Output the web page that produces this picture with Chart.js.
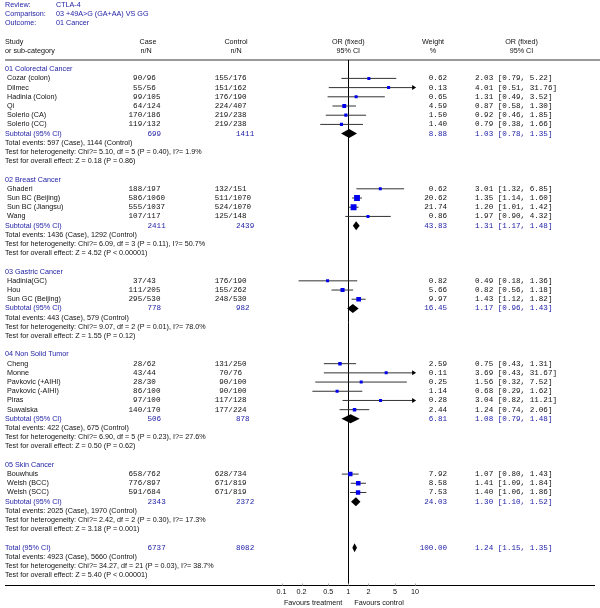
<!DOCTYPE html>
<html><head><meta charset="utf-8">
<script src="https://cdn.jsdelivr.net/npm/chart.js@4/dist/chart.umd.min.js"></script>
<style>html,body{margin:0;padding:0;background:#fff;overflow:hidden}canvas{display:block}</style>
</head><body>
<canvas id="c" width="600" height="608"></canvas>
<script>
// ---------- DATA ----------
const reviewLabels = ["Review:", "Comparison:", "Outcome:"];
const reviewValues = ["CTLA-4", "03 +49A>G (GA+AA) VS GG", "01 Cancer"];

const groupNames = ["01 Colorectal Cancer", "02 Breast Cancer", "03 Gastric Cancer", "04 Non Solid Tumor", "05 Skin Cancer"];
const studyNames = [
  ["Cozar (colon)", "Dilmec", "Hadinia (Colon)", "Qi", "Solerio (CA)", "Solerio (CC)"],
  ["Ghaderi", "Sun BC (Beijing)", "Sun BC (Jiangsu)", "Wang"],
  ["Hadinia(GC)", "Hou", "Sun GC (Beijing)"],
  ["Cheng", "Monne", "Pavkovic (+AIHI)", "Pavkovic (-AIHI)", "Piras", "Suwalska"],
  ["Bouwhuis", "Welsh (BCC)", "Welsh (SCC)"]
];
const caseEvents = [[90,55,99,64,170,119],[188,586,555,107],[37,111,295],[28,43,28,86,97,140],[658,776,591]];
const caseTotals = [[96,56,105,124,186,132],[197,1060,1037,117],[43,205,530],[62,44,30,100,100,170],[762,897,684]];
const ctrlEvents = [[155,151,176,224,219,219],[132,511,524,125],[176,155,248],[131,70,90,90,117,177],[628,671,671]];
const ctrlTotals = [[176,162,190,407,238,238],[151,1070,1070,148],[190,262,530],[250,76,100,100,128,224],[734,819,819]];
const weights = [[0.62,0.13,0.65,4.59,1.50,1.40],[0.62,20.62,21.74,0.86],[0.82,5.66,9.97],[2.59,0.11,0.25,1.14,0.28,2.44],[7.92,8.58,7.53]];
const orValues = [[2.03,4.01,1.31,0.87,0.92,0.79],[3.01,1.35,1.20,1.97],[0.49,0.82,1.43],[0.75,3.69,1.56,0.68,3.04,1.24],[1.07,1.41,1.40]];
const ciLow = [[0.79,0.51,0.49,0.58,0.46,0.38],[1.32,1.14,1.01,0.90],[0.18,0.56,1.12],[0.43,0.43,0.32,0.29,0.82,0.74],[0.80,1.09,1.06]];
const ciHigh = [[5.22,31.76,3.52,1.30,1.85,1.66],[6.85,1.60,1.42,4.32],[1.36,1.18,1.82],[1.31,31.67,7.52,1.62,11.21,2.06],[1.43,1.84,1.86]];

const subCaseTotals = [699, 2411, 778, 506, 2343];
const subCtrlTotals = [1411, 2439, 982, 878, 2372];
const subWeights = [8.88, 43.83, 16.45, 6.81, 24.03];
const subOR = [1.03, 1.31, 1.17, 1.08, 1.30];
const subLow = [0.78, 1.17, 0.96, 0.79, 1.10];
const subHigh = [1.35, 1.48, 1.43, 1.48, 1.52];
const subCaseEvents = [597, 1436, 443, 422, 2025];
const subCtrlEvents = [1144, 1292, 579, 675, 1970];
const subHet = ["Chi?= 5.10, df = 5 (P = 0.40), I?= 1.9%", "Chi?= 6.09, df = 3 (P = 0.11), I?= 50.7%", "Chi?= 9.07, df = 2 (P = 0.01), I?= 78.0%", "Chi?= 6.90, df = 5 (P = 0.23), I?= 27.6%", "Chi?= 2.42, df = 2 (P = 0.30), I?= 17.3%"];
const subEffect = ["Z = 0.18 (P = 0.86)", "Z = 4.52 (P < 0.00001)", "Z = 1.55 (P = 0.12)", "Z = 0.50 (P = 0.62)", "Z = 3.18 (P = 0.001)"];

const totalCase = 6737, totalCtrl = 8082, totalWeight = 100.00;
const totalOR = 1.24, totalLow = 1.15, totalHigh = 1.35;
const totalCaseEvents = 4923, totalCtrlEvents = 5660;
const totalHet = "Chi?= 34.27, df = 21 (P = 0.03), I?= 38.7%";
const totalEffect = "Z = 5.40 (P < 0.00001)";

const xTicks = [0.1, 0.2, 0.5, 1, 2, 5, 10];
const xTickLabels = ["0.1", "0.2", "0.5", "1", "2", "5", "10"];
const favourLeft = "Favours treatment", favourRight = "Favours control";

// ---------- ROW LAYOUT ----------
const rows = []; // {kind, ...}
let r = 0;
groupNames.forEach((g, gi) => {
  rows.push({kind: "group", row: r++, text: g});
  studyNames[gi].forEach((s, si) => {
    rows.push({kind: "study", row: r++, name: s, ce: caseEvents[gi][si], ct: caseTotals[gi][si],
      te: ctrlEvents[gi][si], tt: ctrlTotals[gi][si], w: weights[gi][si],
      or: orValues[gi][si], lo: ciLow[gi][si], hi: ciHigh[gi][si]});
  });
  rows.push({kind: "sub", row: r++, label: "Subtotal (95% CI)", ct: subCaseTotals[gi], tt: subCtrlTotals[gi],
    w: subWeights[gi], or: subOR[gi], lo: subLow[gi], hi: subHigh[gi]});
  rows.push({kind: "text", row: r++, text: "Total events: " + subCaseEvents[gi] + " (Case), " + subCtrlEvents[gi] + " (Control)"});
  rows.push({kind: "text", row: r++, text: "Test for heterogeneity: " + subHet[gi]});
  rows.push({kind: "text", row: r++, text: "Test for overall effect: " + subEffect[gi]});
  r++;
});
rows.push({kind: "sub", row: r++, label: "Total (95% CI)", ct: totalCase, tt: totalCtrl, w: totalWeight, or: totalOR, lo: totalLow, hi: totalHigh});
rows.push({kind: "text", row: r++, text: "Total events: " + totalCaseEvents + " (Case), " + totalCtrlEvents + " (Control)"});
rows.push({kind: "text", row: r++, text: "Test for heterogeneity: " + totalHet});
rows.push({kind: "text", row: r++, text: "Test for overall effect: " + totalEffect});
const lastRow = r; // axis row

const studies = rows.filter(o => o.kind === "study");
const XMIN = 0.1, XMAX = 10;

const ciPoints = [];
studies.forEach(s => {
  ciPoints.push({x: Math.max(s.lo, XMIN), y: s.row});
  ciPoints.push({x: Math.min(s.hi, XMAX), y: s.row});
  ciPoints.push({x: 1, y: null});
});
const squarePoints = studies.map(s => ({x: s.or, y: s.row}));
const squareSide = studies.map(s => Math.max(3, 2.2 + 0.8 * Math.sqrt(s.w)));

// ---------- STYLE ----------
const SANS = '7.2px "Liberation Sans", Arial, sans-serif';
const MONO = '7.6px "Liberation Mono", "Courier New", monospace';
const BLUE = '#2222a8';
const TXT = '#111';
const CASE_SLASH = 144.5, CTRL_SLASH = 230.6;

const forestPlugin = {
  id: 'forest',
  beforeDatasetsDraw(chart) {
    const ctx = chart.ctx, xs = chart.scales.x, ys = chart.scales.y;
    const px = v => xs.getPixelForValue(v), py = v => ys.getPixelForValue(v);
    ctx.save();
    // header rule
    ctx.strokeStyle = '#777'; ctx.lineWidth = 1.5;
    ctx.beginPath(); ctx.moveTo(5, py(-1)); ctx.lineTo(600, py(-1)); ctx.stroke();
    // bottom axis
    ctx.strokeStyle = '#000'; ctx.lineWidth = 1;
    const yb = Math.round(py(lastRow)) + 0.5;
    ctx.beginPath(); ctx.moveTo(5, yb); ctx.lineTo(595, yb); ctx.stroke();
    // line of no effect
    const x1 = Math.round(px(1)) + 0.5;
    ctx.beginPath(); ctx.moveTo(x1, py(-1)); ctx.lineTo(x1, yb); ctx.stroke();
    // ticks
    ctx.strokeStyle = '#aaa';
    xTicks.forEach(v => {
      const x = Math.round(px(v)) + 0.5;
      ctx.beginPath(); ctx.moveTo(x, yb - 2); ctx.lineTo(x, yb); ctx.stroke();
    });
    ctx.restore();
  },
  afterDatasetsDraw(chart) {
    const ctx = chart.ctx, xs = chart.scales.x, ys = chart.scales.y;
    const px = v => xs.getPixelForValue(v), py = v => ys.getPixelForValue(v);
    ctx.save();
    ctx.textBaseline = 'middle';
    const t = (s, x, row, align, font, color) => {
      ctx.font = font; ctx.fillStyle = color; ctx.textAlign = align;
      ctx.fillText(s, x, py(row));
    };
    // header info
    reviewLabels.forEach((l, i) => { t(l, 5, -7 + i, 'left', SANS, BLUE); t(reviewValues[i], 56, -7 + i, 'left', SANS, BLUE); });
    t("Study", 5, -3, 'left', SANS, TXT); t("or sub-category", 5, -2, 'left', SANS, TXT);
    t("Case", 148, -3, 'center', SANS, TXT); t("n/N", 146, -2, 'center', SANS, TXT);
    t("Control", 236, -3, 'center', SANS, TXT); t("n/N", 236, -2, 'center', SANS, TXT);
    const xc = px(1);
    t("OR (fixed)", xc, -3, 'center', SANS, TXT); t("95% CI", xc, -2, 'center', SANS, TXT);
    t("Weight", 433, -3, 'center', SANS, TXT); t("%", 433, -2, 'center', SANS, TXT);
    t("OR (fixed)", 521.5, -3, 'center', SANS, TXT); t("95% CI", 521.5, -2, 'center', SANS, TXT);

    const frac = (e, n, slash, row, color) => {
      t(String(e), slash - 2.3, row, 'right', MONO, color);
      t("/", slash, row, 'center', MONO, color);
      t(String(n), slash + 2.3, row, 'left', MONO, color);
    };
    const ciStr = o => o.or.toFixed(2) + " [" + o.lo.toFixed(2) + ", " + o.hi.toFixed(2) + "]";

    rows.forEach(o => {
      if (o.kind === 'group') t(o.text, 5, o.row, 'left', SANS, BLUE);
      else if (o.kind === 'text') t(o.text, 5, o.row, 'left', SANS, TXT);
      else if (o.kind === 'study') {
        t(o.name, 7, o.row, 'left', SANS, TXT);
        frac(o.ce, o.ct, CASE_SLASH, o.row, TXT);
        frac(o.te, o.tt, CTRL_SLASH, o.row, TXT);
        t(o.w.toFixed(2), 447, o.row, 'right', MONO, TXT);
        t(ciStr(o), 475, o.row, 'left', MONO, TXT);
        // arrows for truncated CIs
        ctx.fillStyle = '#000';
        if (o.hi > XMAX) {
          const xe = px(XMAX), y = py(o.row);
          ctx.beginPath(); ctx.moveTo(xe + 1, y); ctx.lineTo(xe - 3, y - 2.5); ctx.lineTo(xe - 3, y + 2.5); ctx.closePath(); ctx.fill();
        }
        if (o.lo < XMIN) {
          const xe = px(XMIN), y = py(o.row);
          ctx.beginPath(); ctx.moveTo(xe - 1, y); ctx.lineTo(xe + 3, y - 2.5); ctx.lineTo(xe + 3, y + 2.5); ctx.closePath(); ctx.fill();
        }
      } else if (o.kind === 'sub') {
        t(o.label, 5, o.row, 'left', SANS, BLUE);
        t(String(o.ct), 147.5, o.row, 'left', MONO, BLUE);
        t(String(o.tt), 236, o.row, 'left', MONO, BLUE);
        t(o.w.toFixed(2), 447, o.row, 'right', MONO, BLUE);
        t(ciStr(o), 475, o.row, 'left', MONO, BLUE);
        // diamond
        const y = py(o.row), h = 4.5;
        ctx.fillStyle = '#000';
        ctx.beginPath();
        ctx.moveTo(px(o.lo), y); ctx.lineTo(px(o.or), y - h); ctx.lineTo(px(o.hi), y); ctx.lineTo(px(o.or), y + h);
        ctx.closePath(); ctx.fill();
      }
    });
    // axis labels
    xTicks.forEach((v, i) => t(xTickLabels[i], px(v), lastRow + 0.78, 'center', SANS, TXT));
    t(favourLeft, xc - 6, lastRow + 2.04, 'right', SANS, TXT);
    t(favourRight, xc + 6, lastRow + 2.04, 'left', SANS, TXT);
    ctx.restore();
  }
};

const yTop = 60, yBottom = 584.5;
new Chart(document.getElementById('c'), {
  type: 'scatter',
  data: {
    datasets: [
      {type: 'line', data: ciPoints, borderColor: '#333', borderWidth: 1, pointRadius: 0, spanGaps: false, tension: 0, fill: false, order: 2},
      {type: 'scatter', data: squarePoints, pointStyle: 'rect', backgroundColor: '#0000ee', borderWidth: 0,
        pointRadius: c => squareSide[c.dataIndex] / Math.SQRT2, pointHoverRadius: c => squareSide[c.dataIndex] / Math.SQRT2, order: 1}
    ]
  },
  options: {
    responsive: false, animation: false, devicePixelRatio: 1,
    layout: {padding: {left: 281.5, right: 600 - 415.1, top: yTop, bottom: 608 - yBottom}},
    scales: {
      x: {type: 'logarithmic', min: XMIN, max: XMAX, display: false},
      y: {type: 'linear', min: -1, max: lastRow, reverse: true, display: false}
    },
    plugins: {legend: {display: false}, tooltip: {enabled: false}},
    events: []
  },
  plugins: [forestPlugin]
});
</script>
</body></html>
